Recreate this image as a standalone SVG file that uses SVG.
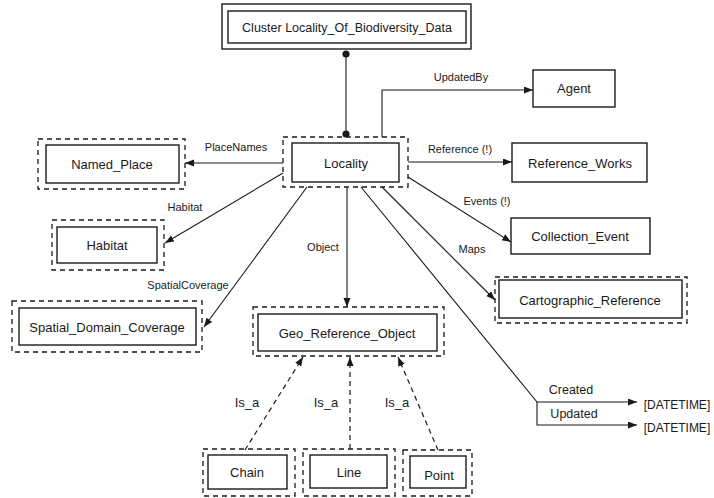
<svg xmlns="http://www.w3.org/2000/svg" width="714" height="498" viewBox="0 0 714 498">
  <style>
    text { font-family: "Liberation Sans", Arial, sans-serif; fill: #1a1a1a; text-anchor: middle; }
    .node { font-size: 13px; }
    .lbl { font-size: 11px; }
    .solid { fill: #ffffff; stroke: #1a1a1a; stroke-width: 1.4; }
    .dash { fill: none; stroke: #1a1a1a; stroke-width: 1.3; stroke-dasharray: 5 4; }
    .edge { fill: none; stroke: #1a1a1a; stroke-width: 1.1; }
    .isa { fill: none; stroke: #1a1a1a; stroke-width: 1.2; stroke-dasharray: 5 4; }
  </style>
  <defs>
    <marker id="arrow" markerUnits="userSpaceOnUse" markerWidth="10" markerHeight="8" refX="9" refY="3.5" orient="auto">
      <path d="M0,0 L9,3.5 L0,7 z" fill="#1a1a1a"/>
    </marker>
    <marker id="dot" markerUnits="userSpaceOnUse" markerWidth="8" markerHeight="8" refX="4" refY="4">
      <circle cx="4" cy="4" r="3.6" fill="#1a1a1a"/>
    </marker>
  </defs>
  <rect width="714" height="498" fill="#ffffff"/>

  <!-- connectors -->
  <g id="connectors">
    <line class="edge" x1="346" y1="54" x2="346" y2="134" marker-start="url(#dot)" marker-end="url(#dot)" stroke-width="1.4"/>
    <polyline class="edge" points="382,137 382,90 533,90" marker-end="url(#arrow)"/>
    <text class="lbl" x="461" y="81">UpdatedBy</text>
    <line class="edge" x1="408" y1="162" x2="512" y2="162" marker-end="url(#arrow)"/>
    <text class="lbl" x="460" y="153">Reference (!)</text>
    <line class="edge" x1="408" y1="177" x2="511" y2="242" marker-end="url(#arrow)"/>
    <text class="lbl" x="487" y="205">Events (!)</text>
    <line class="edge" x1="382" y1="187" x2="495" y2="300" marker-end="url(#arrow)"/>
    <text class="lbl" x="472" y="253">Maps</text>
    <polyline class="edge" points="361,187 537,402 637,402" marker-end="url(#arrow)"/>
    <polyline class="edge" points="537,402 537,425 637,425" marker-end="url(#arrow)"/>
    <text x="571" y="394" font-size="12.5">Created</text>
    <text x="574" y="418" font-size="12.5">Updated</text>
    <text x="677" y="409" font-size="12">[DATETIME]</text>
    <text x="677" y="432" font-size="12">[DATETIME]</text>
    <line class="edge" x1="283" y1="163" x2="185" y2="163" marker-end="url(#arrow)"/>
    <text class="lbl" x="236" y="151">PlaceNames</text>
    <line class="edge" x1="283" y1="173" x2="165" y2="243" marker-end="url(#arrow)"/>
    <text class="lbl" x="185" y="211">Habitat</text>
    <line class="edge" x1="307" y1="187" x2="204" y2="327" marker-end="url(#arrow)"/>
    <text class="lbl" x="188" y="289">SpatialCoverage</text>
    <line class="edge" x1="347" y1="187" x2="347" y2="307" marker-end="url(#arrow)"/>
    <text class="lbl" x="323" y="251">Object</text>
    <line class="isa" x1="245" y1="450" x2="303" y2="357" marker-end="url(#arrow)"/>
    <line class="isa" x1="350" y1="449" x2="350" y2="357" marker-end="url(#arrow)"/>
    <line class="isa" x1="438" y1="450" x2="398" y2="357" marker-end="url(#arrow)"/>
    <text x="247" y="407" font-size="13">Is_a</text>
    <text x="326" y="407" font-size="13">Is_a</text>
    <text x="397" y="407" font-size="13">Is_a</text>
  </g>

  <g id="cluster">
    <rect class="solid" x="222" y="4" width="249" height="45"/>
    <rect class="solid" x="228" y="11" width="238" height="32"/>
    <text x="347" y="31.5" font-size="12.5">Cluster Locality_Of_Biodiversity_Data</text>
  </g>

  <g id="locality">
    <rect class="dash" x="283" y="137" width="125" height="50"/>
    <rect class="solid" x="292" y="143" width="107" height="39"/>
    <text class="node" x="346" y="167.5">Locality</text>
  </g>

  <g id="agent">
    <rect class="solid" x="533" y="70" width="82" height="37"/>
    <text class="node" x="574" y="93">Agent</text>
  </g>

  <g id="reference_works">
    <rect class="solid" x="512" y="143" width="135" height="39"/>
    <text class="node" x="580" y="167.5">Reference_Works</text>
  </g>

  <g id="collection_event">
    <rect class="solid" x="511" y="218" width="139" height="36"/>
    <text class="node" x="580" y="240.5">Collection_Event</text>
  </g>

  <g id="cartographic_reference">
    <rect class="dash" x="495" y="277" width="192" height="46"/>
    <rect class="solid" x="499" y="280" width="183" height="38"/>
    <text class="node" x="590" y="304.5">Cartographic_Reference</text>
  </g>

  <g id="named_place">
    <rect class="dash" x="38" y="139" width="147" height="50"/>
    <rect class="solid" x="46" y="145" width="133" height="38"/>
    <text class="node" x="112" y="168.5">Named_Place</text>
  </g>

  <g id="habitat">
    <rect class="dash" x="52" y="220" width="112" height="50"/>
    <rect class="solid" x="57" y="227" width="100" height="36"/>
    <text class="node" x="107" y="249.5">Habitat</text>
  </g>

  <g id="spatial_domain_coverage">
    <rect class="dash" x="12" y="301" width="190" height="51"/>
    <rect class="solid" x="19" y="308" width="177" height="37"/>
    <text class="node" x="107" y="331.5">Spatial_Domain_Coverage</text>
  </g>

  <g id="geo_reference_object">
    <rect class="dash" x="253" y="307" width="191" height="49"/>
    <rect class="solid" x="258" y="314" width="179" height="37"/>
    <text class="node" x="347" y="337.5">Geo_Reference_Object</text>
  </g>

  <g id="chain">
    <rect class="dash" x="203" y="449" width="92" height="47"/>
    <rect class="solid" x="208" y="455" width="79" height="34"/>
    <text class="node" x="247" y="477">Chain</text>
  </g>

  <g id="line">
    <rect class="dash" x="303" y="449" width="92" height="47"/>
    <rect class="solid" x="310" y="455" width="77" height="33"/>
    <text class="node" x="349" y="477">Line</text>
  </g>

  <g id="point">
    <rect class="dash" x="403" y="450" width="69" height="46"/>
    <rect class="solid" x="410" y="456" width="56" height="32"/>
    <text class="node" x="439" y="480">Point</text>
  </g>
</svg>
